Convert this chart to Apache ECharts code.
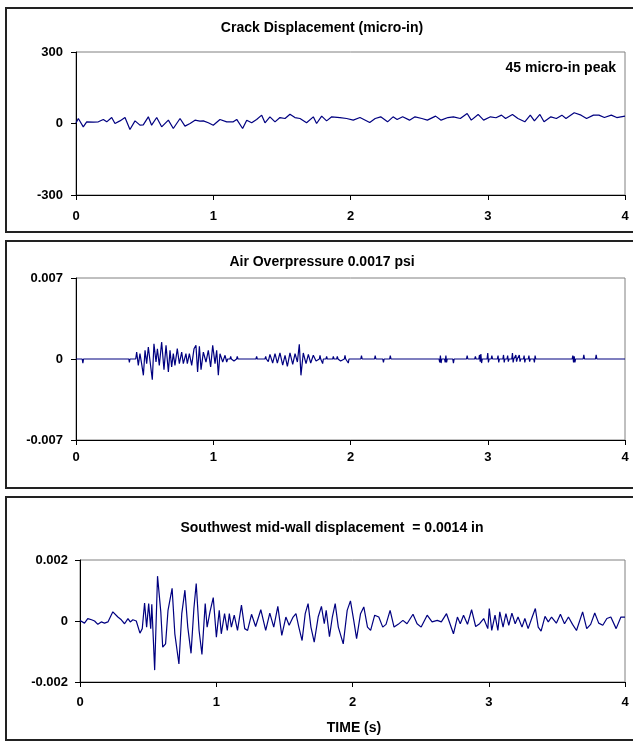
<!DOCTYPE html>
<html>
<head>
<meta charset="utf-8">
<script src="https://cdn.jsdelivr.net/npm/echarts@6/dist/echarts.min.js"></script>
<style>
  html, body { margin: 0; padding: 0; background: #fff; }
  #chart { width: 633px; height: 742px; }
</style>
</head>
<body>
<div id="chart"></div>
<script>
// Time axis ticks (s), shared by all three records
const timeTicks = [0, 1, 2, 3, 4];

// Crack displacement record (micro-in)
const crackT = [0, 0.017, 0.053, 0.078, 0.126, 0.163, 0.199, 0.224, 0.26, 0.284, 0.32, 0.357, 0.393, 0.43, 0.466, 0.49,
  0.527, 0.551, 0.588, 0.624, 0.673, 0.709, 0.758, 0.794, 0.831, 0.867, 0.903, 0.928, 0.964, 1.0, 1.049, 1.098,
  1.146, 1.171, 1.214, 1.244, 1.28, 1.316, 1.353, 1.377, 1.413, 1.45, 1.486, 1.523, 1.559, 1.595, 1.632, 1.68,
  1.729, 1.753, 1.79, 1.826, 1.863, 1.923, 1.972, 2.02, 2.069, 2.14, 2.18, 2.22, 2.27, 2.31, 2.34, 2.38, 2.43,
  2.47, 2.52, 2.56, 2.62, 2.66, 2.71, 2.75, 2.80, 2.85, 2.88, 2.93, 2.97, 3.02, 3.06, 3.10, 3.13, 3.18, 3.22,
  3.27, 3.31, 3.34, 3.38, 3.41, 3.46, 3.50, 3.54, 3.57, 3.63, 3.68, 3.72, 3.77, 3.81, 3.85, 3.90, 3.94, 4.0];
const crackV = [2, 21, -14, 7, 6, 7, 17, 7, 25, 0, 11, 25, -25, 11, -7, -6,
  28, -7, 25, -14, 14, -21, 21, -11, 0, 14, 10, 11, 3, -7, 17, 7,
  7, 17, -21, 14, 3, 17, 35, 3, 28, 7, 25, 21, 39, 25, 21, 3,
  28, 0, 31, 11, 28, 25, 21, 14, 25, 4, 21, 28, 7, 28, 17, 28, 14,
  28, 21, 14, 31, 14, 25, 28, 21, 42, 14, 38, 14, 28, 24, 35, 21, 38, 21,
  7, 35, 11, 38, 7, 28, 21, 35, 21, 45, 35, 21, 35, 35, 25, 35, 25, 31];

// Air overpressure record (psi)
const airT = [0, 0.045, 0.05, 0.055, 0.385, 0.389, 0.393, 0.435,
  0.442, 0.454, 0.466, 0.478, 0.491, 0.503, 0.515, 0.527, 0.539, 0.556, 0.568, 0.583, 0.593, 0.607, 0.624,
  0.641, 0.656, 0.673, 0.685, 0.697, 0.709, 0.721, 0.738, 0.753, 0.770, 0.782, 0.801, 0.811, 0.826, 0.843,
  0.860, 0.874, 0.886, 0.899, 0.911, 0.928, 0.947, 0.964, 0.981, 0.996, 1.013, 1.025, 1.037, 1.049, 1.069,
  1.086, 1.098, 1.105,
  1.122, 1.127, 1.132, 1.146, 1.151, 1.156, 1.170, 1.175, 1.180, 1.202, 1.207, 1.212, 1.238, 1.243, 1.248,
  1.268, 1.273, 1.278, 1.311, 1.316, 1.321, 1.336, 1.341, 1.346, 1.377, 1.382, 1.387,
  1.396, 1.401, 1.413, 1.433, 1.450, 1.467, 1.486, 1.506, 1.523, 1.540, 1.559, 1.579, 1.596, 1.613, 1.627,
  1.639, 1.656, 1.676, 1.693, 1.710, 1.729, 1.749, 1.760,
  1.773, 1.778, 1.783, 1.792, 1.797, 1.802, 1.821, 1.826, 1.831, 1.846, 1.851, 1.856, 1.870, 1.875, 1.880,
  1.899, 1.904, 1.909, 1.923, 1.928, 1.933, 1.955, 1.960, 1.965, 1.979, 1.984, 1.989,
  2.075, 2.08, 2.085, 2.175, 2.18, 2.185, 2.235, 2.24, 2.245, 2.285, 2.29, 2.295,
  2.645, 2.65, 2.655, 2.66, 2.665, 2.685, 2.69, 2.695, 2.70, 2.705, 2.745, 2.75, 2.755, 2.845, 2.85, 2.855,
  2.905, 2.91, 2.915, 2.935, 2.94, 2.945, 2.95, 2.955, 2.96, 2.995, 3.0, 3.005, 3.01, 3.025, 3.03, 3.035,
  3.07, 3.075, 3.08, 3.085, 3.11, 3.115, 3.12, 3.125, 3.14, 3.145, 3.15, 3.155, 3.175, 3.18, 3.185, 3.19,
  3.20, 3.205, 3.21, 3.215, 3.225, 3.23, 3.235, 3.24, 3.26, 3.265, 3.27, 3.275, 3.295, 3.30, 3.305, 3.31,
  3.335, 3.34, 3.345, 3.35, 3.615, 3.62, 3.625, 3.63, 3.635, 3.64, 3.695, 3.70, 3.705, 3.785, 3.79, 3.795, 4.0];
const airV = [0, 0, -0.00035, 0, 0, -0.0003, 0, 0,
  0.0006, -0.00055, 0.00046, -0.0004, -0.00141, 0.00075, -0.0004, 0.00104, 0.00118, -0.00179, 0.00132, -0.00026, 0.00089, -0.00055, 0.00147,
  -0.00092, 0.00118, -0.00112, 0.00075, -0.00069, 0.00046, -0.00055, 0.00089, -0.0004, 0.0006, -0.0004, 0.00046, -0.0004, 0.00046, -0.00055,
  0.00089, 0.00118, -0.00112, 0.00109, -0.00092, 0.0006, -0.00026, 0.00075, -0.00069, 0.00118, -0.0004, 0.00075, -0.00141, 0.00046, -0.00026,
  0.00032, -0.00026, 0,
  0, 0.00023, 0, 0, -0.00017, 0, 0, 0.00023, 0, 0, 0.00017, 0, 0, 0.00017, 0,
  0, -0.00017, 0, 0, 0.00023, 0, 0, -0.00012, 0, 0, 0.00023, 0,
  0, -0.00023, 0.0004, -0.00035, 0.00046, -0.00035, 0.00052, -0.00052, 0.00032, -0.00063, 0.00052, -0.00046, 0.00046, -0.00026, 0.00127,
  -0.00141, 0.00052, -0.0004, 0.0004, -0.00035, 0.00032, -0.00017, 0,
  0, 0.00032, 0, 0, -0.0004, 0, 0, 0.00023, 0, 0, -0.00017, 0, 0, 0.00023, 0,
  0, 0.00023, 0, 0, -0.00017, 0, 0, 0.00032, 0, 0, -0.00035, 0,
  0, 0.00029, 0, 0, 0.00029, 0, 0, -0.00029, 0, 0, 0.00029, 0,
  0, -0.00029, 0.00029, -0.00035, 0, 0, -0.00029, 0.00029, -0.00029, 0, 0, -0.00035, 0, 0, 0.00029, 0,
  0, 0.00023, 0, 0, 0.00035, -0.00023, 0.00043, -0.00035, 0, 0, 0.00052, -0.00029, 0, 0, 0.00029, 0,
  0, 0.00029, -0.00029, 0, 0, 0.00035, -0.00029, 0, 0, 0.00029, -0.00023, 0, 0, 0.00052, -0.00029, 0,
  0, 0.00035, -0.00023, 0, 0, 0.00035, -0.00023, 0, 0, 0.00029, -0.00029, 0, 0, 0.00029, -0.00023, 0,
  0, -0.00029, 0.00029, 0, 0, 0.00029, -0.00029, 0.00023, -0.00029, 0, 0, 0.00035, 0, 0, 0.00035, 0, 0];

// Southwest mid-wall displacement record (in)
const wallT = [0, 0.033, 0.057, 0.085, 0.107, 0.131, 0.156, 0.18, 0.205, 0.241, 0.278, 0.303, 0.327, 0.352, 0.369,
  0.388, 0.413, 0.44, 0.457, 0.474, 0.489, 0.504, 0.519, 0.527, 0.548, 0.569, 0.593, 0.607, 0.628, 0.646,
  0.676, 0.696, 0.726, 0.747, 0.770, 0.791, 0.815, 0.836, 0.853, 0.874, 0.895, 0.919, 0.933, 0.954, 0.978,
  1.001, 1.022, 1.037, 1.061, 1.081, 1.096, 1.111, 1.132, 1.156, 1.185, 1.209, 1.230, 1.259, 1.289, 1.327,
  1.363, 1.393, 1.422, 1.452, 1.481, 1.511, 1.535, 1.564, 1.585, 1.606, 1.630, 1.653, 1.674, 1.695, 1.719,
  1.748, 1.772, 1.793, 1.807, 1.831, 1.852, 1.873, 1.896, 1.932, 1.961, 1.985, 2.009, 2.030, 2.059, 2.083,
  2.110, 2.133, 2.163, 2.193, 2.222, 2.246, 2.276, 2.305, 2.335, 2.370, 2.400, 2.444, 2.474, 2.504, 2.548,
  2.584, 2.622, 2.652, 2.690, 2.741, 2.770, 2.791, 2.815, 2.844, 2.874, 2.904, 2.933, 2.963, 2.993, 3.004,
  3.022, 3.046, 3.067, 3.081, 3.105, 3.126, 3.147, 3.170, 3.194, 3.215, 3.244, 3.265, 3.289, 3.319, 3.342,
  3.363, 3.384, 3.413, 3.437, 3.461, 3.496, 3.526, 3.556, 3.585, 3.615, 3.644, 3.689, 3.719, 3.748, 3.778,
  3.807, 3.837, 3.867, 3.896, 3.935, 3.970, 4.0];
const wallV = [0.00002, -0.00007, 0.00008, 0.00004, 0, -0.00011, -0.00003, -0.00007, -0.00003, 0.0003, 0.00013, 0.00004, -0.00009, 0.00008, -0.00003,
  0.00004, 0, -0.0004, -0.00025, 0.00059, -0.0002, 0.00057, -0.00025, 0.00055, -0.00161, 0.00147, 0.0003, -0.00086, -0.00075, 0.00035,
  0.00107, -0.00042, -0.00141, 0.00024, 0.00101, -0.0002, -0.00106, 0.00041, 0.00123, -0.00031, -0.0011, 0.00057, -0.0002, 0.0003, 0.00077,
  -0.00053, 0.00035, -0.00042, 0.00024, -0.00031, 0.00024, -0.0002, 0.00019, -0.00031, 0.00052, -0.00025, -0.00031, 0.00022, -0.00018, 0.00037,
  -0.00031, 0.00026, -0.0002, 0.00048, -0.00047, 0.00013, -0.00014, 0.00013, 0.00024, -0.0002, -0.00064, 0.00024, 0.00057, -0.0002, -0.00069,
  0.00013, 0.00048, -0.00009, 0.00035, -0.00051, 0.00013, 0.00057, -0.0002, -0.00075, 0.00035, 0.00066, 0.00002, -0.00058, 0.00024, 0.00046,
  -0.0002, -0.00031, 0.00019, 0.00013, -0.0002, -0.00011, 0.00035, -0.0002, -0.00011, 0.00002, -0.00009, 0.00022, -0.00009, -0.0002, 0.00019,
  -0.00003, 0.00002, -0.00003, 0.00024, -0.00042, 0.00013, -0.00009, 0.00019, -0.00011, 0.00037, -0.00018, -0.00009, 0.00008, -0.00025, 0.00041,
  -0.00031, 0.00019, -0.00031, 0.0003, -0.0002, 0.00024, -0.00014, 0.00026, -0.00009, 0.00013, -0.0002, 0.00008, -0.00025, 0.00013, 0.00041,
  -0.0002, -0.00033, 0.00015, -0.00003, 0.00013, -0.00007, 0.00022, -0.00009, 0.00013, -0.00011, -0.00031, 0.0003, -0.00025, -0.00011, 0.00026,
  -0.00007, -0.00014, 0.00008, 0.00013, -0.00025, 0.00013, 0.00013];

// Panel titles and y-axis ranges
const panelTitles = ['Crack Displacement (micro-in)', 'Air Overpressure 0.0017 psi', 'Southwest mid-wall displacement  = 0.0014 in'];
const yRanges = [[-300, 300, 300], [-0.007, 0.007, 0.007], [-0.002, 0.002, 0.002]];
const peakNote = '45 micro-in peak';
const xAxisName = 'TIME (s)';

const FONT = '"Liberation Sans", Arial, sans-serif';
const LINE_COLOR = '#000080';

const grids = [
  { left: 76, top: 52, width: 549, height: 143 },
  { left: 76, top: 278, width: 549, height: 162 },
  { left: 80, top: 560, width: 545, height: 122 }
];
const xLabelMargins = [15, 11, 14];
const yLabelMargins = [13, 13, 12];

function pairs(ts, vs) { return ts.map((t, i) => [t, vs[i]]); }
const seriesData = [pairs(crackT, crackV), pairs(airT, airV), pairs(wallT, wallV)];

const chart = echarts.init(document.getElementById('chart'), null, { renderer: 'canvas' });

const option = {
  backgroundColor: '#fff',
  animation: false,
  grid: grids.map(g => Object.assign({ show: true, borderColor: '#808080', borderWidth: 1, backgroundColor: 'transparent' }, g)),
  xAxis: grids.map((g, i) => ({
    type: 'value', gridIndex: i,
    min: timeTicks[0], max: timeTicks[timeTicks.length - 1], interval: 1,
    axisLine: { show: true, onZero: false, lineStyle: { color: '#000', width: 1 } },
    axisTick: { show: true, length: 5, lineStyle: { color: '#000' } },
    axisLabel: { margin: xLabelMargins[i], color: '#000', fontFamily: FONT, fontWeight: 'bold', fontSize: 13 },
    splitLine: { show: false }
  })),
  yAxis: grids.map((g, i) => ({
    type: 'value', gridIndex: i,
    min: yRanges[i][0], max: yRanges[i][1], interval: yRanges[i][2],
    axisLine: { show: true, onZero: false, lineStyle: { color: '#000', width: 1 } },
    axisTick: { show: true, length: 5, lineStyle: { color: '#000' } },
    axisLabel: { margin: yLabelMargins[i], color: '#000', fontFamily: FONT, fontWeight: 'bold', fontSize: 13 },
    splitLine: { show: false }
  })),
  series: seriesData.map((d, i) => ({
    type: 'line', xAxisIndex: i, yAxisIndex: i, data: d,
    showSymbol: false, symbol: 'none', clip: true,
    lineStyle: { color: LINE_COLOR, width: 1.2 },
    emphasis: { disabled: true }
  })),
  graphic: [
    { type: 'rect', z: 0, silent: true, shape: { x: 6, y: 8, width: 700, height: 224 }, style: { fill: 'none', stroke: '#222', lineWidth: 2 } },
    { type: 'rect', z: 0, silent: true, shape: { x: 6, y: 241, width: 700, height: 247 }, style: { fill: 'none', stroke: '#222', lineWidth: 2 } },
    { type: 'rect', z: 0, silent: true, shape: { x: 6, y: 497, width: 700, height: 243 }, style: { fill: 'none', stroke: '#222', lineWidth: 2 } },
    { type: 'text', silent: true, style: { text: panelTitles[0], x: 322, y: 28, align: 'center', verticalAlign: 'middle', font: 'bold 14px ' + FONT, fill: '#000' } },
    { type: 'text', silent: true, style: { text: panelTitles[1], x: 322, y: 262, align: 'center', verticalAlign: 'middle', font: 'bold 14px ' + FONT, fill: '#000' } },
    { type: 'text', silent: true, style: { text: panelTitles[2], x: 332, y: 528, align: 'center', verticalAlign: 'middle', font: 'bold 14px ' + FONT, fill: '#000' } },
    { type: 'text', silent: true, style: { text: peakNote, x: 616, y: 68, align: 'right', verticalAlign: 'middle', font: 'bold 14px ' + FONT, fill: '#000' } },
    { type: 'text', silent: true, style: { text: xAxisName, x: 354, y: 728, align: 'center', verticalAlign: 'middle', font: 'bold 14px ' + FONT, fill: '#000' } }
  ]
};

chart.setOption(option);
</script>
</body>
</html>
